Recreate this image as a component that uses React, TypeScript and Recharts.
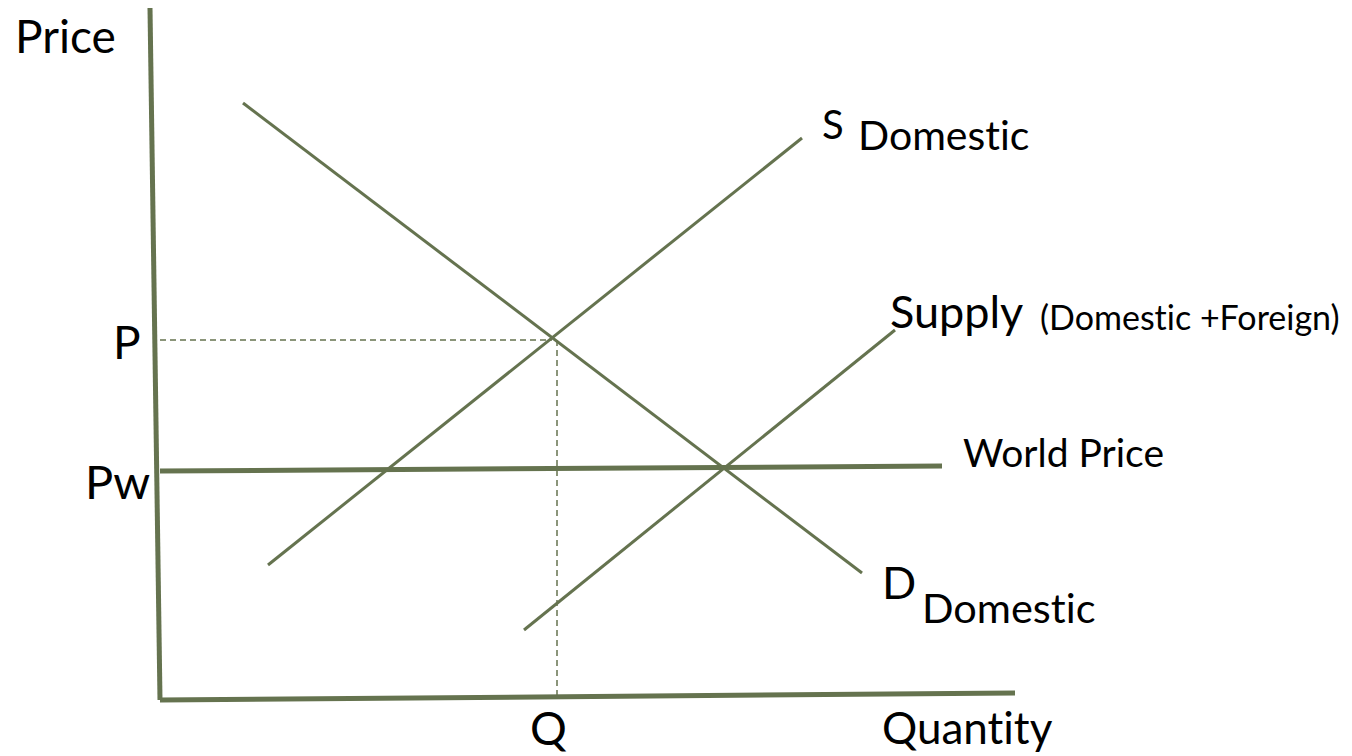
import { ComposedChart, Line, XAxis, YAxis, ReferenceDot } from "recharts";

// quantity (q) / price (p) units, origin at the axes corner
const yAxisLine = [
  { q: -1, p: 69.2 },
  { q: 0, p: 0 },
];
const xAxisLine = [
  { q: 0, p: 0 },
  { q: 85.5, p: 0.7 },
];
const demandDomestic = [
  { q: 8.3, p: 59.7 },
  { q: 70.2, p: 12.7 },
];
const supplyDomestic = [
  { q: 10.8, p: 13.5 },
  { q: 64.2, p: 56.2 },
];
const supplyTotal = [
  { q: 36.4, p: 7 },
  { q: 73.5, p: 37 },
];
const worldPrice = [
  { q: 0, p: 22.9 },
  { q: 78.2, p: 23.4 },
];
const priceGuide = [
  { q: 0, p: 36 },
  { q: 39.2, p: 36 },
];
const quantityGuide = [
  { q: 39.7, p: 36 },
  { q: 39.7, p: 0.3 },
];

const labels = [
  { q: -14.5, p: 66.3, text: "Price", size: 46 },
  { q: -4.7, p: 35.7, text: "P", size: 46 },
  { q: -7.5, p: 21.8, text: "Pw", size: 47 },
  { q: 37, p: -2.9, text: "Q", size: 46 },
  { q: 72.2, p: -2.8, text: "Quantity", size: 44 },
  { q: 66.2, p: 57.5, text: "S", size: 40 },
  { q: 69.8, p: 56.5, text: "Domestic", size: 41 },
  { q: 73, p: 38.8, text: "Supply", size: 45 },
  { q: 88, p: 38.2, text: "(Domestic +Foreign)", size: 34 },
  { q: 80.3, p: 24.7, text: "World Price", size: 39 },
  { q: 72.2, p: 11.7, text: "D", size: 45 },
  { q: 76.2, p: 9.2, text: "Domestic", size: 41.5 },
];

const GREEN = "#65734f";

const lineProps = {
  dataKey: "p",
  stroke: GREEN,
  dot: false,
  activeDot: false,
  legendType: "none" as const,
  isAnimationActive: false,
};

export default function App() {
  return (
    <div style={{ fontFamily: "Lato, sans-serif", fontVariantLigatures: "none" }}>
      <style>{`body{margin:0} text{font-variant-ligatures:none}`}</style>
      <ComposedChart width={1352} height={756} margin={{ top: 0, right: 0, bottom: 0, left: 0 }}>
        <XAxis type="number" dataKey="q" domain={[-16, 119.2]} hide allowDataOverflow />
        <YAxis type="number" dataKey="p" domain={[-5.6, 70]} hide allowDataOverflow />
        <Line {...lineProps} data={yAxisLine} strokeWidth={5} />
        <Line {...lineProps} data={xAxisLine} strokeWidth={5} />
        <Line {...lineProps} data={worldPrice} strokeWidth={5} />
        <Line {...lineProps} data={demandDomestic} strokeWidth={3} />
        <Line {...lineProps} data={supplyDomestic} strokeWidth={3} />
        <Line {...lineProps} data={supplyTotal} strokeWidth={3} />
        <Line {...lineProps} data={priceGuide} strokeWidth={1.5} strokeDasharray="6 4" />
        <Line {...lineProps} data={quantityGuide} strokeWidth={1.5} strokeDasharray="6 4" />
        {labels.map((l, i) => (
          <ReferenceDot
            key={i}
            x={l.q}
            y={l.p}
            r={0}
            fill="none"
            stroke="none"
            ifOverflow="visible"
            label={{ value: l.text, position: "right", offset: 0, fontSize: l.size, fill: "#000", fontFamily: "Lato, sans-serif" }}
          />
        ))}
      </ComposedChart>
    </div>
  );
}
